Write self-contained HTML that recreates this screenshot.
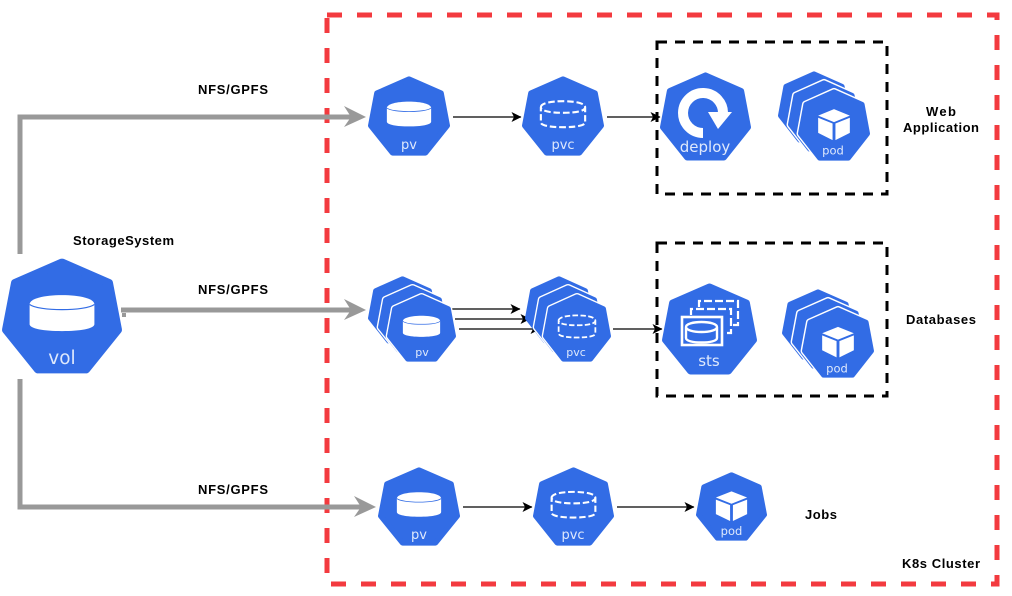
<!DOCTYPE html>
<html><head><meta charset="utf-8"><style>
html,body{margin:0;padding:0;background:#fff}
svg{display:block}
.l{font-family:"Liberation Sans",Arial,sans-serif;font-weight:bold;font-size:13px;fill:#000}
.n{font-family:"DejaVu Sans",sans-serif;fill:#dfe9fc;text-anchor:middle}
.g{fill:none;stroke:#999;stroke-width:5}
.b{fill:none;stroke:#000;stroke-width:1.2}
</style></head><body>
<svg width="1012" height="596" viewBox="0 0 1012 596" xmlns="http://www.w3.org/2000/svg">
<defs>
<g id="hex"><polygon points="50,4 89,21.500 96.500,62 70,96 30,96 3.500,62 11,21.500" fill="#326ce5" stroke="#326ce5" stroke-width="7" stroke-linejoin="round"/></g>
<g id="hexw"><polygon points="50,4 89,21.500 96.500,62 70,96 30,96 3.500,62 11,21.500" fill="#fff" stroke="#fff" stroke-width="11" stroke-linejoin="round"/><polygon points="50,4 89,21.500 96.500,62 70,96 30,96 3.500,62 11,21.500" fill="#326ce5" stroke="#326ce5" stroke-width="7" stroke-linejoin="round"/></g>
<g id="cyl"><path d="M23,40 C23,35 35,32 50,32 S77,35 77,40 V57 C77,61 65,63 50,63 S23,61 23,57 Z" fill="#fff"/><path d="M23,40 C30,46 70,46 77,40" fill="none" stroke="#326ce5" stroke-width="1"/></g>
<g id="dcyl" fill="none" stroke="#fff" stroke-width="2.6"><path d="M23,39 C23,34 35,31.500 50,31.500 S77,34 77,39 C77,44 65,46 50,46 S23,44 23,39 V58 C23,62 35,64 50,64 S77,62 77,58 V39" stroke-dasharray="8 3.500"/></g>
<g id="cube" fill="#fff"><polygon points="50,28 72,37 50,46 28,37"/><polygon points="28,40 48,48 48,71 28,61"/><polygon points="72,40 52,48 52,71 72,61"/></g>
<marker id="a" viewBox="0 0 10 10" refX="9.500" refY="5" markerWidth="10" markerHeight="10" markerUnits="userSpaceOnUse" orient="auto"><path d="M0,0 L10,5 L0,10 L2.500,5 Z" fill="#000"/></marker>
</defs>

<rect x="327" y="15" width="670" height="569" fill="none" stroke="#f33a3f" stroke-width="5" stroke-dasharray="15 15"/>
<rect x="657" y="42" width="230" height="152" fill="none" stroke="#000" stroke-width="3" stroke-dasharray="10 8"/>
<rect x="657" y="243" width="230" height="153" fill="none" stroke="#000" stroke-width="3" stroke-dasharray="10 8"/>

<!-- grey connectors -->
<path class="g" d="M20,254 V117 H352"/>
<path d="M344,106 L366,117 L344,127 L351,117 Z" fill="#999"/>
<path class="g" d="M121,310 H352"/>
<path d="M344,299 L366,310 L344,320 L351,310 Z" fill="#999"/>
<rect x="122" y="313" width="4" height="4" fill="#999"/>
<path class="g" d="M20,379 V507 H362"/>
<path d="M354,496 L376,507 L354,517 L361,507 Z" fill="#999"/>

<!-- black connectors -->
<path class="b" d="M453,117 H521" marker-end="url(#a)"/>
<path class="b" d="M607,117 H660" marker-end="url(#a)"/>
<path class="b" d="M452,309 H520" marker-end="url(#a)"/>
<path class="b" d="M455,319 H530" marker-end="url(#a)"/>
<path class="b" d="M459,329 H540" marker-end="url(#a)"/>
<path class="b" d="M613,329 H662" marker-end="url(#a)"/>
<path class="b" d="M463,507 H532" marker-end="url(#a)"/>
<path class="b" d="M617,507 H694" marker-end="url(#a)"/>

<!-- vol -->
<g transform="translate(2,258) scale(1.2,1.16)"><use href="#hex"/><use href="#cyl"/></g>
<text class="n" x="62" y="364" font-size="18.500">vol</text>

<!-- row 1 -->
<g transform="translate(368,76) scale(.82,.8)"><use href="#hex"/><use href="#cyl"/></g>
<text class="n" x="409" y="149" font-size="13">pv</text>
<g transform="translate(522,76) scale(.82,.8)"><use href="#hex"/><use href="#dcyl"/></g>
<text class="n" x="563" y="149" font-size="13">pvc</text>
<g transform="translate(660,72) scale(.91,.89)"><use href="#hex"/></g>
<path d="M703,133 A20,20 0 1 1 723,114" fill="none" stroke="#fff" stroke-width="10"/>
<polygon points="708,112 732,112 718,129" fill="#fff"/>
<text class="n" x="705" y="152" font-size="15">deploy</text>
<g transform="translate(778,71) scale(.72,.72)"><use href="#hex"/></g>
<g transform="translate(788,80) scale(.72,.72)"><use href="#hexw"/></g>
<g transform="translate(798,89) scale(.72,.72)"><use href="#hexw"/><use href="#cube"/></g>
<text class="n" x="833" y="154.500" font-size="11.500">pod</text>

<!-- row 2 -->
<g transform="translate(368,276) scale(.69,.68)"><use href="#hex"/></g>
<g transform="translate(378,285) scale(.69,.68)"><use href="#hexw"/></g>
<g transform="translate(387,294) scale(.69,.68)"><use href="#hexw"/><use href="#cyl"/></g>
<text class="n" x="422" y="356" font-size="11">pv</text>
<g transform="translate(525,276) scale(.68,.68)"><use href="#hex"/></g>
<g transform="translate(534,285) scale(.68,.68)"><use href="#hexw"/></g>
<g transform="translate(543,294) scale(.68,.68)"><use href="#hexw"/><use href="#dcyl"/></g>
<text class="n" x="576" y="356" font-size="11">pvc</text>
<g transform="translate(662,283) scale(.95,.92)"><use href="#hex"/></g>
<g fill="none" stroke="#fff" stroke-width="2.200">
<path d="M699,307 V301 H738 V325 H733" stroke-dasharray="8 3"/>
<path d="M691,315 V309 H731 V333 H724" stroke-dasharray="8 3"/>
<rect x="682" y="317" width="40" height="28" fill="#326ce5" stroke-width="2.600"/>
<path d="M686,327 C686,324 693,322 701.500,322 S717,324 717,327 C717,330 710,332 701.500,332 S686,330 686,327 V338 C686,341 693,342.500 701.500,342.500 S717,341 717,338 V327" stroke-width="2.400"/>
</g>
<text class="n" x="709" y="366" font-size="15">sts</text>
<g transform="translate(782,289) scale(.72,.71)"><use href="#hex"/></g>
<g transform="translate(792,298) scale(.72,.71)"><use href="#hexw"/></g>
<g transform="translate(802,307) scale(.72,.71)"><use href="#hexw"/><use href="#cube"/></g>
<text class="n" x="837" y="372.500" font-size="11.500">pod</text>

<!-- row 3 -->
<g transform="translate(378,467) scale(.82,.79)"><use href="#hex"/><use href="#cyl"/></g>
<text class="n" x="419" y="539" font-size="13">pv</text>
<g transform="translate(533,467) scale(.81,.79)"><use href="#hex"/><use href="#dcyl"/></g>
<text class="n" x="573" y="539" font-size="13">pvc</text>
<g transform="translate(696,472) scale(.71,.69)"><use href="#hex"/><use href="#cube"/></g>
<text class="n" x="731.500" y="535" font-size="11.500">pod</text>

<!-- labels -->
<text class="l" x="198" y="94" textLength="70" lengthAdjust="spacing">NFS/GPFS</text>
<text class="l" x="198" y="294" textLength="70" lengthAdjust="spacing">NFS/GPFS</text>
<text class="l" x="198" y="494" textLength="70" lengthAdjust="spacing">NFS/GPFS</text>
<text class="l" x="73" y="245" textLength="101" lengthAdjust="spacing">StorageSystem</text>
<text class="l" x="926" y="116" textLength="30" lengthAdjust="spacing">Web</text>
<text class="l" x="903" y="132" textLength="76" lengthAdjust="spacing">Application</text>
<text class="l" x="906" y="324" textLength="70" lengthAdjust="spacing">Databases</text>
<text class="l" x="805" y="519" textLength="32" lengthAdjust="spacing">Jobs</text>
<text class="l" x="902" y="568" textLength="78" lengthAdjust="spacing">K8s Cluster</text>
</svg>
</body></html>
